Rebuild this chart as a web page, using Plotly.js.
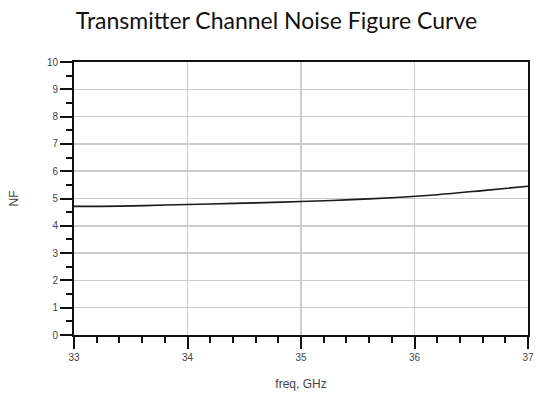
<!DOCTYPE html>
<html>
<head>
<meta charset="utf-8">
<script src="https://cdn.plot.ly/plotly-3.0.1.min.js"></script>
<style>html,body{margin:0;padding:0;background:#fff;}#chart{width:540px;height:401px;}</style>
</head>
<body>
<div id="chart"></div>
<script>
const freqGHz = [33.0, 33.4, 33.8, 34.2, 34.6, 35.0, 35.4, 35.8, 36.2, 36.6, 37.0];
const noiseFigure = [4.71, 4.72, 4.76, 4.80, 4.84, 4.89, 4.95, 5.03, 5.14, 5.29, 5.45];
const xTicks = [33, 34, 35, 36, 37];
const yTicks = [0, 1, 2, 3, 4, 5, 6, 7, 8, 9, 10];

const tickFont = {family: 'Liberation Sans, Arial, sans-serif', size: 10, color: '#444'};

Plotly.newPlot('chart', [{
  x: freqGHz,
  y: noiseFigure,
  type: 'scatter',
  mode: 'lines',
  line: {color: '#1a1a1a', width: 1.6, shape: 'spline'},
  hoverinfo: 'skip'
}], {
  width: 540, height: 401,
  margin: {l: 74, r: 12, t: 62, b: 66},
  paper_bgcolor: '#fff', plot_bgcolor: '#fff',
  showlegend: false,
  title: {text: 'Transmitter Channel Noise Figure Curve', x: 0.512, xanchor: 'center', y: 0.947, yanchor: 'middle',
          font: {family: 'Lato, Open Sans, sans-serif', size: 23, color: '#111', weight: 400}},
  xaxis: {
    range: [33, 37], tickvals: xTicks, ticktext: xTicks.map(String),
    showline: true, linecolor: '#111', linewidth: 2, mirror: true,
    ticks: 'outside', ticklen: 12, tickwidth: 2, tickcolor: '#111',
    showgrid: true, gridcolor: '#cccccc', gridwidth: 1.5,
    zeroline: false, tickfont: tickFont,
    minor: {dtick: 0.2, ticks: 'outside', ticklen: 6, tickwidth: 2, tickcolor: '#111', showgrid: false},
    title: {text: 'freq, GHz', font: {family: 'Liberation Sans, Arial, sans-serif', size: 12, color: '#444'}, standoff: 18}
  },
  yaxis: {
    range: [0, 10], tickvals: yTicks, ticktext: yTicks.map(String),
    showline: true, linecolor: '#111', linewidth: 2, mirror: true,
    ticks: 'outside', ticklen: 12, tickwidth: 2, tickcolor: '#111',
    showgrid: true, gridcolor: '#cccccc', gridwidth: 1.5,
    zeroline: false, tickfont: tickFont,
    minor: {dtick: 0.5, ticks: 'outside', ticklen: 6, tickwidth: 2, tickcolor: '#111', showgrid: false},
    title: {text: 'NF', font: {family: 'Liberation Sans, Arial, sans-serif', size: 12, color: '#444'}, standoff: 26}
  }
}, {staticPlot: true, displayModeBar: false});
</script>
</body>
</html>
